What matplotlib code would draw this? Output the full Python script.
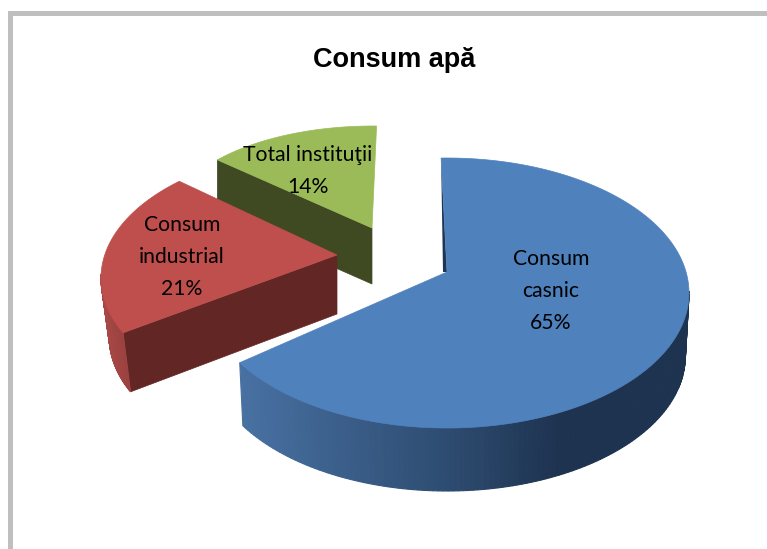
import numpy as np
import matplotlib
matplotlib.use('Agg')
import matplotlib.pyplot as plt
from matplotlib.patches import Polygon, Rectangle

title = 'Consum apă'
names = ['Consum\ncasnic', 'Consum\nindustrial', 'Total instituţii']
shares = [65, 21, 14]

top_colors = ['#4F81BD', '#BE4F4C', '#9BBB59']
side_colors = ['#1F3552', '#622725', '#3F4A22']

# per slice view: centre x, y, radius x, y, apex x, y, depth, rotation, sweep gain
views = [(447, 293, 242, 135, 447, 272, 63, -1.4, 1.027),
         (337, 278, 236, 130, 337, 255, 59, -341.0, 0.966),
         (373, 223, 205, 97, 372, 228, 56, -359.0, 1.0)]
rim_scale = [0.985, 0.965, 1.0]
label_pos = [(551, 291), (182, 257), (308, 171)]

fig = plt.figure(figsize=(7.67, 5.49), dpi=100)
ax = fig.add_axes([0, 0, 1, 1])
ax.set_xlim(0, 767)
ax.set_ylim(549, 0)
ax.axis('off')

# frame of the page
ax.add_patch(Rectangle((8, 11), 759, 5, fc='#BFBFBF', ec='none'))
ax.add_patch(Rectangle((8, 11), 5, 538, fc='#BFBFBF', ec='none'))


def arc(view, t, scale=1.0, dy=0.0):
    cx, cy, a, b = view[:4]
    r = np.radians(t)
    return np.column_stack([cx + a * scale * np.sin(r), cy + dy - b * np.cos(r)])


def rim_color(i, x):
    if i == 0:
        stops = [(240, (72, 113, 163)), (460, (44, 74, 110)), (560, (30, 51, 80))]
    else:
        stops = [(100, (168, 72, 70)), (130, (150, 64, 62))]
    xs = [s[0] for s in stops]
    return [np.interp(x, xs, [s[1][k] for s in stops]) / 255 for k in range(3)]


starts = np.cumsum([0] + shares[:-1]) * 3.6
sweeps = np.array(shares) * 3.6

# far slices first, the blue one lies in front
for i in [2, 1, 0]:
    view = views[i]
    ax_x, ax_y, depth, rot, gain = view[4:]
    t0 = rot + gain * starts[i]
    t1 = t0 + gain * sweeps[i]
    t = np.linspace(t0, t1, 200)
    edge = arc(view, t)

    if i == 0:
        # thin dark inner wall along the cut at the top
        ax.add_patch(Polygon([edge[0], (ax_x - 4, ax_y), (ax_x, ax_y)],
                             fc=side_colors[0], ec='none'))
    else:
        # cut wall going back to the apex
        low_corner = arc(view, t[:1], rim_scale[i], depth)[0]
        wall = [edge[0], (ax_x, ax_y), (ax_x, ax_y + depth), low_corner]
        ax.add_patch(Polygon(wall, fc=side_colors[i], ec=side_colors[i], lw=0.5))

    # outer rim in small strips for the shading
    if i == 0:
        front = t[t > 88]
    elif i == 1:
        front = t[t < -88]
    else:
        front = t[:0]
    if len(front):
        up = arc(view, front)
        low = arc(view, front, rim_scale[i], depth)
        for k in range(len(front) - 1):
            quad = [up[k], up[k + 1], low[k + 1], low[k]]
            col = rim_color(i, up[k][0])
            ax.add_patch(Polygon(quad, fc=col, ec=col, lw=0.8))

    ax.add_patch(Polygon(np.vstack([[(ax_x, ax_y)], edge]), fc=top_colors[i],
                         ec=top_colors[i], lw=0.5))

for i in range(3):
    ax.text(label_pos[i][0], label_pos[i][1], f'{names[i]}\n{shares[i]}%', ha='center',
            va='center', family='Lato', fontsize=15.2, linespacing=1.75, color='black')

ax.text(394, 60, title, ha='center', va='center', family='Liberation Sans',
        fontweight='bold', fontsize=19.5, color='black')

fig.savefig('out.png', dpi=100)
